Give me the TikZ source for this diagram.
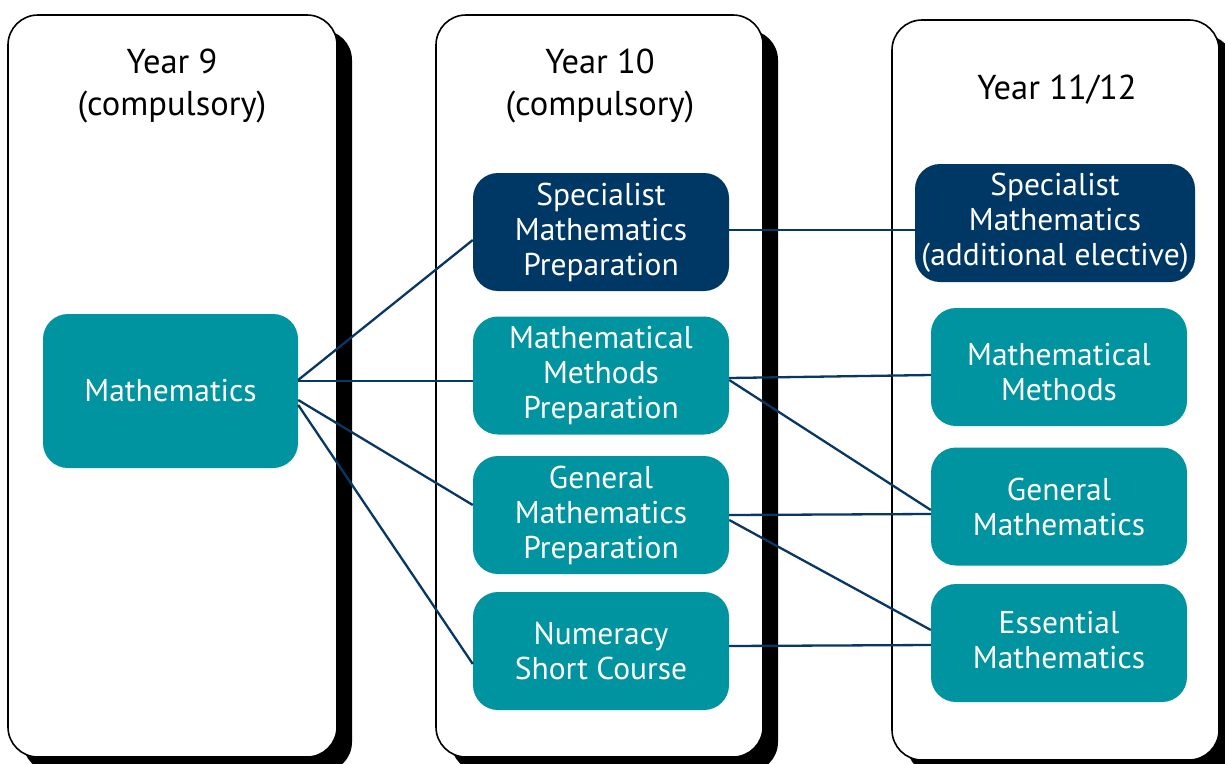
\documentclass[tikz,border=0pt]{standalone}
\usepackage{fontspec}
\setmainfont{PT Sans}
\definecolor{teal1}{RGB}{0,147,160}
\definecolor{navy1}{RGB}{0,56,101}
\definecolor{line1}{RGB}{8,55,100}
\begin{document}
\begin{tikzpicture}[x=1pt,y=-1pt,
  colframe/.style={draw=black,line width=1.6pt,fill=white,rounded corners=30pt},
  colshadow/.style={fill=black,rounded corners=30pt},
  header/.style={align=center,font=\fontsize{34.5}{42}\selectfont,text=black},
  coursetext/.style={text=white,align=center,inner sep=0pt,font=\fontsize{31.5}{35}\selectfont},
  course/.style={rounded corners=25pt,coursetext,minimum height=118pt,minimum width=256pt},
  tealbox/.style={course,fill=teal1},
  navybox/.style={course,fill=navy1},
  link/.style={draw=line1,line width=2.3pt}]
\useasboundingbox (0,0) rectangle (1225,763);
% column frames with shadows
\fill[colshadow] (23,30) rectangle (352,772);
\draw[colframe] (8,15) rectangle (337,757);
\fill[colshadow] (451,30) rectangle (778,772);
\draw[colframe] (436,15) rectangle (763,757);
\fill[colshadow] (907,35) rectangle (1234,775);
\draw[colframe] (892,20) rectangle (1219,760);
% headers
\node[header] (h9) at (172,86) {Year 9\\(compulsory)};
\node[header] (h10) at (600,86) {Year 10\\(compulsory)};
\node[header] (h11) at (1057,90) {Year 11/12};
% nodes
\node[tealbox,minimum width=255pt,minimum height=154pt] (math) at (170.5,391) {Mathematics};
\node[navybox] (specP) at (601,232) {Specialist\\Mathematics\\Preparation};
\node[tealbox] (methP) at (601,375.5) {Mathematical\\Methods\\Preparation};
\node[tealbox] (genP) at (601,515) {General\\Mathematics\\Preparation};
\node[tealbox] (numP) at (601,651) {Numeracy\\Short Course};
\node[navybox,minimum width=280pt] (spec) at (1055,223) {Specialist\\Mathematics\\(additional elective)};
\node[tealbox,label={[coursetext,yshift=-5pt]center:Mathematical\\Methods}] (meth) at (1059,367) {};
\node[tealbox] (gen) at (1059,506.5) {General\\Mathematics};
\node[tealbox,label={[coursetext,yshift=3pt]center:Essential\\Mathematics}] (ess) at (1059,643) {};
% connectors
\draw[link] ([yshift=11pt]math.east) -- ([yshift=-8pt]specP.west);
\draw[link] ([yshift=10pt]math.east) -- ([yshift=-5.5pt]methP.west);
\draw[link] ([yshift=-9pt]math.east) -- ([yshift=10pt]genP.west);
\draw[link] ([yshift=-14pt]math.east) -- ([yshift=-13pt]numP.west);
\draw[link] ([yshift=2pt]specP.east) -- ([yshift=-7pt]spec.west);
\draw[link] ([yshift=-2.5pt]methP.east) -- ([yshift=-8pt]meth.west);
\draw[link] ([yshift=-4.5pt]methP.east) -- ([yshift=-3.5pt]gen.west);
\draw[link] ([yshift=0pt]genP.east) -- ([yshift=-7.5pt]gen.west);
\draw[link] ([yshift=-5pt]genP.east) -- ([yshift=13pt]ess.west);
\draw[link] ([yshift=5pt]numP.east) -- ([yshift=-2pt]ess.west);
\end{tikzpicture}
\end{document}
